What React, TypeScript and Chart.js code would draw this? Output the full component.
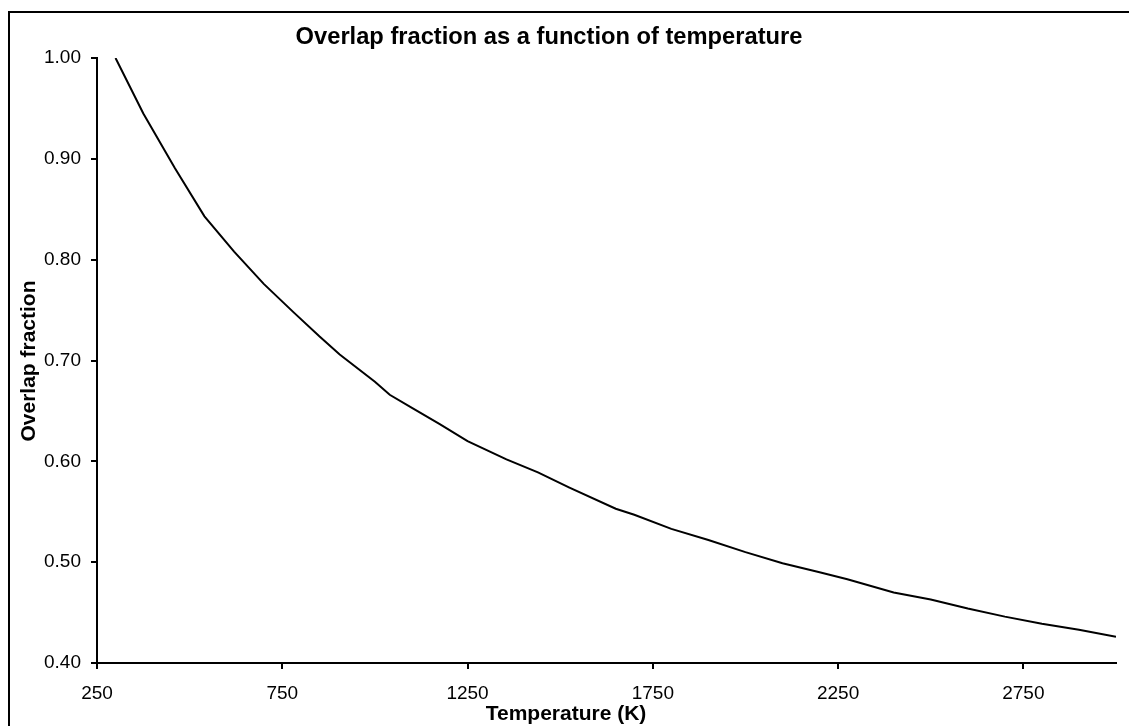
import React, { useEffect, useRef } from "react";
import { Chart, registerables } from "chart.js";

Chart.register(...registerables);

const temperatures = [300, 375, 460, 540, 620, 700, 780, 850, 905, 1000, 1040, 1100, 1175, 1250, 1355, 1440, 1525, 1650, 1700, 1800, 1900, 2000, 2100, 2200, 2275, 2400, 2500, 2600, 2700, 2800, 2900, 3000];
const overlap = [1.0, 0.945, 0.891, 0.843, 0.808, 0.776, 0.748, 0.724, 0.706, 0.679, 0.666, 0.653, 0.637, 0.62, 0.602, 0.589, 0.574, 0.553, 0.547, 0.533, 0.522, 0.51, 0.499, 0.49, 0.483, 0.47, 0.463, 0.454, 0.446, 0.439, 0.433, 0.426];
const xTicks = [250, 750, 1250, 1750, 2250, 2750];
const yTicks = [0.4, 0.5, 0.6, 0.7, 0.8, 0.9, 1.0];
const chartTitle = "Overlap fraction as a function of temperature";
const xTitle = "Temperature (K)";
const yTitle = "Overlap fraction";

const FONT = "'Liberation Sans', Arial, sans-serif";

export default function App() {
  const ref = useRef<HTMLCanvasElement>(null);

  useEffect(() => {
    if (!ref.current) return;
    const textPlugin = {
      id: "texts",
      afterDraw(chart: any) {
        const { ctx } = chart;
        ctx.save();
        ctx.strokeStyle = "#000";
        ctx.lineWidth = 2;
        ctx.strokeRect(9, 12, 1300, 900);
        ctx.fillStyle = "#000";
        ctx.textAlign = "center";
        ctx.textBaseline = "middle";
        ctx.font = "bold 23.7px " + FONT;
        ctx.fillText(chartTitle, 549, 37);
        ctx.font = "bold 21px " + FONT;
        ctx.fillText(xTitle, 566, 714);
        ctx.translate(29, 361);
        ctx.rotate(-Math.PI / 2);
        ctx.fillText(yTitle, 0, 0);
        ctx.restore();
      },
    };

    const chart = new Chart(ref.current, {
      type: "line",
      data: {
        datasets: [
          {
            data: temperatures.map((t, i) => ({ x: t, y: overlap[i] })),
            borderColor: "#000",
            borderWidth: 2,
            pointRadius: 0,
            tension: 0,
            fill: false,
          },
        ],
      },
      options: {
        responsive: false,
        animation: false,
        devicePixelRatio: 1,
        layout: { padding: { left: 0, top: 58, right: 13, bottom: 0 } },
        plugins: {
          legend: { display: false },
          title: { display: false },
          tooltip: { enabled: false },
        },
        scales: {
          x: {
            type: "linear",
            min: 250,
            max: 3000,
            afterFit: (s: any) => {
              s.height = 63;
            },
            afterBuildTicks: (s: any) => {
              s.ticks = xTicks.map((v) => ({ value: v }));
            },
            grid: {
              display: true,
              drawOnChartArea: false,
              drawTicks: true,
              tickLength: 6,
              color: "#000",
              lineWidth: 2,
            },
            border: { display: true, color: "#000", width: 2 },
            ticks: {
              color: "#000",
              font: { family: FONT, size: 19 },
              padding: 13,
              maxRotation: 0,
              autoSkip: false,
              callback: (v: any) => String(v),
            },
          },
          y: {
            type: "linear",
            min: 0.4,
            max: 1.0,
            afterFit: (s: any) => {
              s.width = 97;
            },
            afterBuildTicks: (s: any) => {
              s.ticks = yTicks.map((v) => ({ value: v }));
            },
            grid: {
              display: true,
              drawOnChartArea: false,
              drawTicks: true,
              tickLength: 6,
              color: "#000",
              lineWidth: 2,
            },
            border: { display: true, color: "#000", width: 2 },
            ticks: {
              color: "#000",
              font: { family: FONT, size: 19 },
              padding: 10,
              autoSkip: false,
              callback: (v: any) => Number(v).toFixed(2),
            },
          },
        },
      },
      plugins: [textPlugin],
    } as any);

    return () => chart.destroy();
  }, []);

  return (
    <div style={{ position: "fixed", left: 0, top: 0, width: 1129, height: 726, background: "#fff" }}>
      <canvas ref={ref} width={1129} height={726} style={{ display: "block" }} />
    </div>
  );
}
